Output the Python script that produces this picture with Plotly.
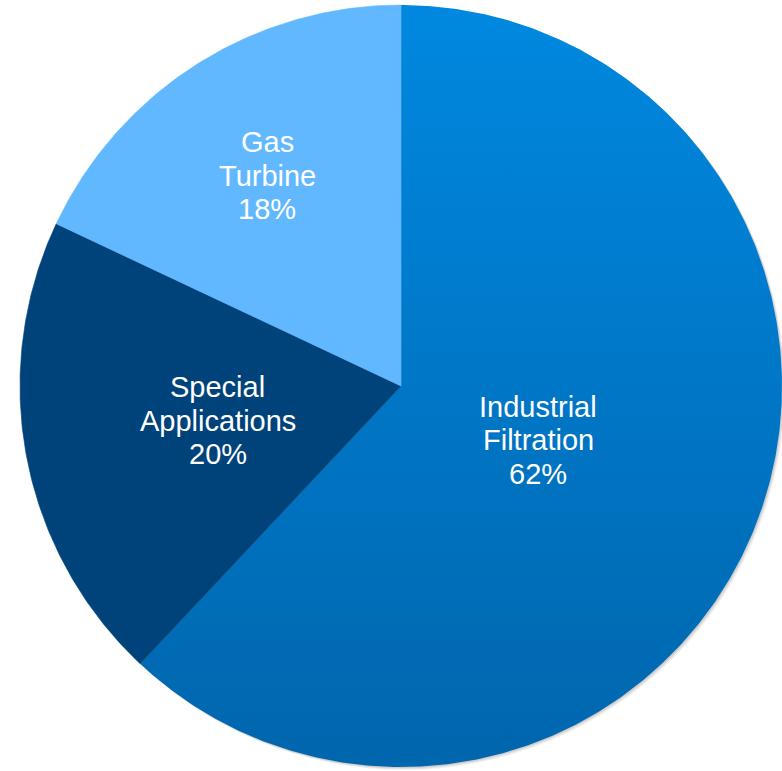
import numpy as np
import plotly.graph_objects as go

# Revenue share by business segment
segments = ["Industrial Filtration", "Special Applications", "Gas Turbine"]
label_lines = [["Industrial", "Filtration"], ["Special", "Applications"], ["Gas", "Turbine"]]
shares = [62, 20, 18]

# Styling
solid_colors = ["#0077C6", "#00437A", "#62B8FF"]
industrial_gradient = [[0.0, "#0066AD"], [1.0, "#0088E0"]]
label_radius = [0.387, 0.49, 0.654]   # radial placement of each label (fraction of radius)
font = dict(family="Liberation Sans, Arial, sans-serif", size=29, color="white")
line_step = 33.5                      # pixel spacing between label lines

W, H = 782, 771
R_PX = 381.0                          # pie radius in pixels
CX_PX, CY_PX = 401.0, 386.0           # pie centre (pixels from top-left)

# Axis ranges in units of the pie radius, keeping a 1:1 pixel aspect
x_range = [-CX_PX / R_PX, (W - CX_PX) / R_PX]
y_range = [-(H - CY_PX) / R_PX, CY_PX / R_PX]

# Slice angles: clockwise from 12 o'clock
vals = np.array(shares, dtype=float)
frac = vals / vals.sum()
ends = np.cumsum(frac) * 2 * np.pi
starts = ends - frac * 2 * np.pi

fig = go.Figure()

# soft drop shadow behind the pie
for k, a in [(3, 0.05), (2, 0.07), (1, 0.09)]:
    off = k / R_PX
    fig.add_shape(type="circle", xref="x", yref="y",
                  x0=-1 + off, x1=1 + off, y0=-1 - off, y1=1 - off,
                  fillcolor=f"rgba(0,0,0,{a})", line=dict(width=0), layer="below")

for i, name in enumerate(segments):
    t = np.linspace(starts[i], ends[i], max(int(frac[i] * 720), 8))
    xs = np.concatenate([[0.0], np.sin(t), [0.0]])
    ys = np.concatenate([[0.0], np.cos(t), [0.0]])
    trace = dict(x=xs, y=ys, mode="lines", fill="toself", line=dict(width=0.6, color=solid_colors[i]),
                 name=name, hoverinfo="name", showlegend=False)
    if i == 0:
        trace["fillgradient"] = dict(type="vertical", colorscale=industrial_gradient)
        trace["line"] = dict(width=0)
    else:
        trace["fillcolor"] = solid_colors[i]
    fig.add_trace(go.Scatter(**trace))

# Labels: name lines plus percentage, centred on each slice's mid-angle
for i in range(len(segments)):
    mid = (starts[i] + ends[i]) / 2
    lx, ly = label_radius[i] * np.sin(mid), label_radius[i] * np.cos(mid)
    lines = label_lines[i] + [f"{shares[i]}%"]
    n = len(lines)
    for j, txt in enumerate(lines):
        fig.add_annotation(x=lx, y=ly, xref="x", yref="y", text=txt, showarrow=False,
                           font=font, xanchor="center", yanchor="middle",
                           yshift=((n - 1) / 2 - j) * line_step)

fig.update_layout(
    width=W, height=H,
    margin=dict(l=0, r=0, t=0, b=0),
    paper_bgcolor="white", plot_bgcolor="white",
    showlegend=False,
    xaxis=dict(range=x_range, visible=False, fixedrange=True),
    yaxis=dict(range=y_range, visible=False, fixedrange=True),
)

fig.write_html("out.html")
